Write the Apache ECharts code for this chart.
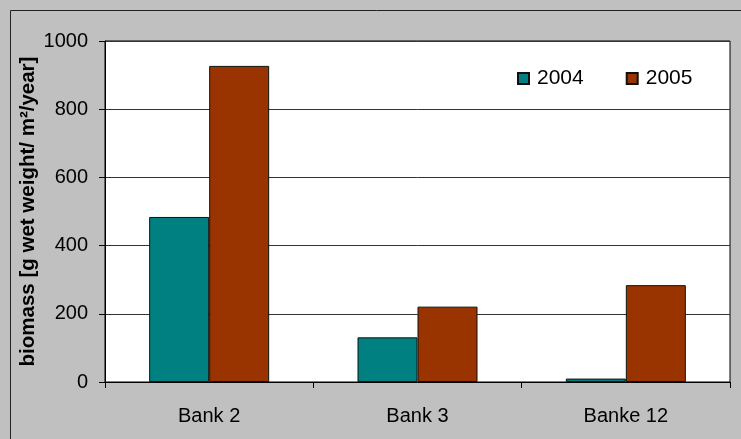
<!DOCTYPE html>
<html>
<head>
<meta charset="utf-8">
<script src="https://cdn.jsdelivr.net/npm/echarts@6/dist/echarts.min.js"></script>
<style>html,body{margin:0;padding:0;background:#c0c0c0;}#c{width:741px;height:439px;}</style>
</head>
<body>
<div id="c"></div>
<script>
const categories = ['Bank 2', 'Bank 3', 'Banke 12'];
const series2004 = [484, 131, 10];
const series2005 = [927, 221, 284];
const yTicks = [0, 200, 400, 600, 800, 1000];

const chart = echarts.init(document.getElementById('c'));
const font = 'Liberation Sans, Arial, sans-serif';
chart.setOption({
  backgroundColor: '#c0c0c0',
  animation: false,
  graphic: [{
    type: 'rect', z: -1, silent: true,
    shape: { x: 10.5, y: 10.5, width: 800, height: 500 },
    style: { fill: 'none', stroke: '#222', lineWidth: 1 }
  }],
  grid: {
    left: 105, right: 11, top: 41, bottom: 57,
    show: true, backgroundColor: '#fff', borderColor: '#000', borderWidth: 1
  },
  legend: {
    data: ['2004', '2005'],
    left: 512, top: 63,
    icon: 'rect', itemWidth: 11, itemHeight: 11, itemGap: 42,
    textStyle: { fontFamily: font, fontSize: 21, color: '#000', padding: [0, 0, 0, 3] }
  },
  xAxis: {
    type: 'category', data: categories,
    axisLine: { lineStyle: { color: '#000', width: 1 } },
    axisTick: { show: true, length: 6, lineStyle: { color: '#000' } },
    axisLabel: { fontFamily: font, fontSize: 20, color: '#000', margin: 24 }
  },
  yAxis: {
    type: 'value', min: 0, max: 1000, interval: 200,
    name: 'biomass [g wet weight/ m²/year]',
    nameLocation: 'middle', nameGap: 66, nameRotate: 90,
    nameMoveOverlap: false,
    nameTextStyle: { fontFamily: font, fontSize: 20.5, fontWeight: 'bold', color: '#000' },
    axisLine: { show: true, lineStyle: { color: '#000', width: 1 } },
    axisTick: { show: true, length: 6, lineStyle: { color: '#000' } },
    axisLabel: { fontFamily: font, fontSize: 20, color: '#000', margin: 17,
      formatter: v => yTicks.includes(v) ? String(v) : '' },
    splitLine: { show: true, lineStyle: { color: '#333', width: 1 } }
  },
  series: [
    { name: '2004', type: 'bar', data: series2004, barWidth: 60, barGap: '0%',
      itemStyle: { color: '#008080', borderColor: '#111', borderWidth: 1 } },
    { name: '2005', type: 'bar', data: series2005, barWidth: 60, barGap: '0%',
      itemStyle: { color: '#993300', borderColor: '#111', borderWidth: 1 } }
  ]
});
</script>
</body>
</html>
